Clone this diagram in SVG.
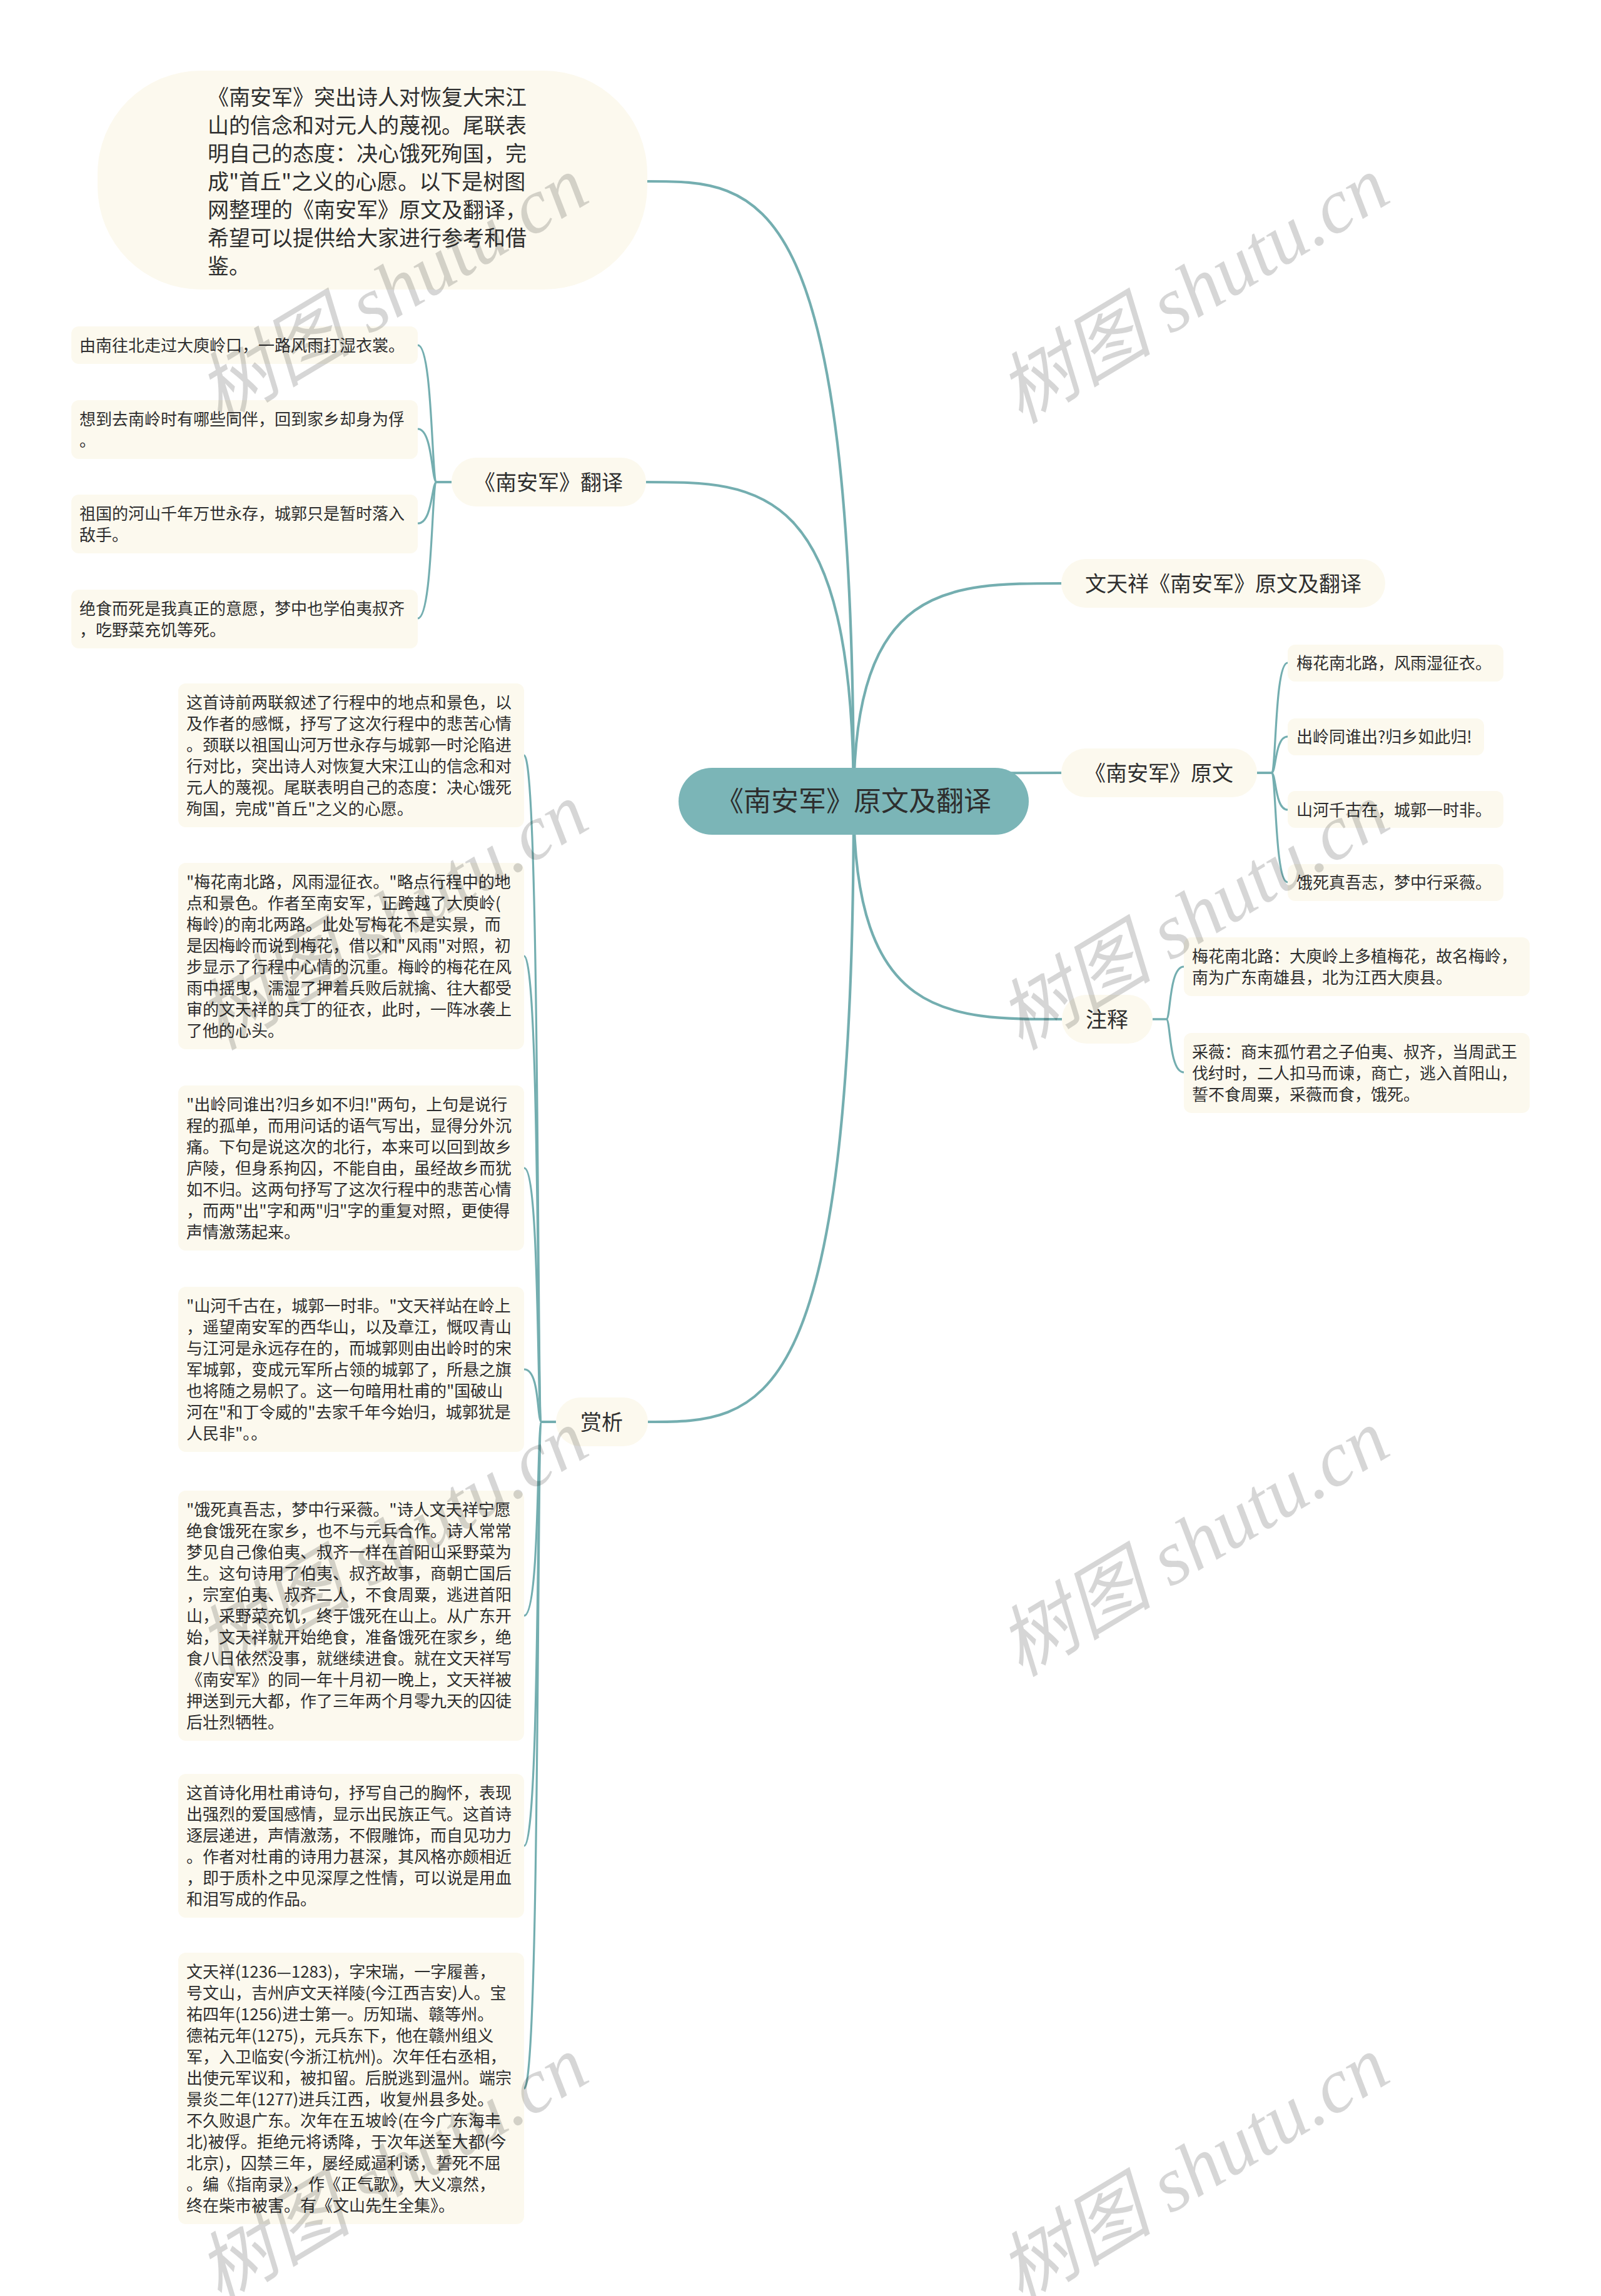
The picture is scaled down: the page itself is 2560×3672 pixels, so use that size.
<svg xmlns="http://www.w3.org/2000/svg" width="2560" height="3672" viewBox="0 0 2560 3672">
<style>
.ln{fill:none;stroke:#74aeb0;stroke-width:3.2}
.lm{stroke-width:4.2}
.nd{fill:#fcf9ee}
.rt{fill:#7bb5b7}
.t{font-family:"Noto Sans CJK SC","Noto Sans",sans-serif;fill:#2e2e2e}
.s{font-size:26px}
.m{font-size:34px}
.c{text-anchor:middle}
.wm{font-family:"Liberation Serif","Noto Sans CJK SC",serif;font-style:italic;font-size:124px;fill:#000;fill-opacity:0.16}
</style>
<rect width="2560" height="3672" fill="#ffffff"/>
<g id="connectors">
<path class="ln lm" d="M1365 1281 C1365 290, 1216 290, 1035 290"/>
<path class="ln lm" d="M1365 1281 C1365 771, 1216 771, 1033 771"/>
<path class="ln lm" d="M1365 1281 C1365 933, 1514 933, 1697 933"/>
<path class="ln lm" d="M1365 1281 C1365 1236, 1514 1236, 1697 1236"/>
<path class="ln lm" d="M1365 1281 C1365 1630, 1514 1630, 1698 1630"/>
<path class="ln lm" d="M1365 1281 C1365 2274, 1217 2274, 1036 2274"/>
<path class="ln" d="M722 771 H698 C690 771, 692 552, 668 552"/>
<path class="ln" d="M722 771 H698 C690 771, 692 686, 668 686"/>
<path class="ln" d="M722 771 H698 C690 771, 692 837, 668 837"/>
<path class="ln" d="M722 771 H698 C690 771, 692 989, 668 989"/>
<path class="ln" d="M2010 1236 H2033 C2041 1236, 2038 1060, 2059 1060"/>
<path class="ln" d="M2010 1236 H2033 C2041 1236, 2038 1178, 2059 1178"/>
<path class="ln" d="M2010 1236 H2033 C2041 1236, 2038 1295, 2059 1295"/>
<path class="ln" d="M2010 1236 H2033 C2041 1236, 2038 1411, 2059 1411"/>
<path class="ln" d="M1843 1630 H1865 C1872 1630, 1869 1546, 1893 1546"/>
<path class="ln" d="M1843 1630 H1865 C1872 1630, 1869 1715, 1893 1715"/>
<path class="ln" d="M889 2274 H866 C858 2274, 864 1208, 838 1208"/>
<path class="ln" d="M889 2274 H866 C858 2274, 864 1529, 838 1529"/>
<path class="ln" d="M889 2274 H866 C858 2274, 864 1868, 838 1868"/>
<path class="ln" d="M889 2274 H866 C858 2274, 864 2190, 838 2190"/>
<path class="ln" d="M889 2274 H866 C858 2274, 864 2584, 838 2584"/>
<path class="ln" d="M889 2274 H866 C858 2274, 864 2952, 838 2952"/>
<path class="ln" d="M889 2274 H866 C858 2274, 864 3340, 838 3340"/>
</g>
<g id="root">
<rect class="rt" x="1085" y="1228" width="560" height="107" rx="53.5"/>
<text class="t c" x="1365" y="1297" font-size="44">《南安军》原文及翻译</text>
</g>
<g id="intro">
<rect class="nd" x="156" y="113" width="879" height="350" rx="165"/>
<text class="t m" x="332"><tspan x="332" y="168">《南安军》突出诗人对恢复大宋江</tspan><tspan x="332" y="213">山的信念和对元人的蔑视。尾联表</tspan><tspan x="332" y="258">明自己的态度：决心饿死殉国，完</tspan><tspan x="332" y="303">成"首丘"之义的心愿。以下是树图</tspan><tspan x="332" y="348">网整理的《南安军》原文及翻译，</tspan><tspan x="332" y="393">希望可以提供给大家进行参考和借</tspan><tspan x="332" y="438">鉴。</tspan></text>
</g>
<g id="fanyi">
<rect class="nd" x="722" y="732" width="311" height="78" rx="39"/>
<text class="t m c" x="877" y="784">《南安军》翻译</text>
</g>
<g id="fanyi-1">
<rect class="nd" x="114" y="522" width="554" height="60" rx="12"/>
<text class="t s" x="127" y="562">由南往北走过大庾岭口，一路风雨打湿衣裳。</text>
</g>
<g id="fanyi-2">
<rect class="nd" x="114" y="640" width="554" height="94" rx="12"/>
<text class="t s"><tspan x="127" y="680">想到去南岭时有哪些同伴，回到家乡却身为俘</tspan><tspan x="127" y="714">。</tspan></text>
</g>
<g id="fanyi-3">
<rect class="nd" x="114" y="791" width="554" height="94" rx="12"/>
<text class="t s"><tspan x="127" y="831">祖国的河山千年万世永存，城郭只是暂时落入</tspan><tspan x="127" y="865">敌手。</tspan></text>
</g>
<g id="fanyi-4">
<rect class="nd" x="114" y="943" width="554" height="94" rx="12"/>
<text class="t s"><tspan x="127" y="983">绝食而死是我真正的意愿，梦中也学伯夷叔齐</tspan><tspan x="127" y="1017">，吃野菜充饥等死。</tspan></text>
</g>
<g id="title2">
<rect class="nd" x="1697" y="894" width="518" height="78" rx="39"/>
<text class="t m c" x="1956" y="946">文天祥《南安军》原文及翻译</text>
</g>
<g id="yuanwen">
<rect class="nd" x="1697" y="1197" width="313" height="78" rx="39"/>
<text class="t m c" x="1853" y="1249">《南安军》原文</text>
</g>
<g id="yuanwen-1">
<rect class="nd" x="2059" y="1031" width="345" height="59" rx="12"/>
<text class="t s" x="2073" y="1070">梅花南北路，风雨湿征衣。</text>
</g>
<g id="yuanwen-2">
<rect class="nd" x="2059" y="1149" width="314" height="59" rx="12"/>
<text class="t s" x="2073" y="1188">出岭同谁出?归乡如此归!</text>
</g>
<g id="yuanwen-3">
<rect class="nd" x="2059" y="1265" width="345" height="59" rx="12"/>
<text class="t s" x="2073" y="1305">山河千古在，城郭一时非。</text>
</g>
<g id="yuanwen-4">
<rect class="nd" x="2059" y="1382" width="345" height="59" rx="12"/>
<text class="t s" x="2073" y="1421">饿死真吾志，梦中行采薇。</text>
</g>
<g id="zhushi">
<rect class="nd" x="1698" y="1591" width="145" height="78" rx="39"/>
<text class="t m c" x="1770" y="1643">注释</text>
</g>
<g id="zhushi-1">
<rect class="nd" x="1893" y="1499" width="553" height="94" rx="12"/>
<text class="t s"><tspan x="1906" y="1539">梅花南北路：大庾岭上多植梅花，故名梅岭，</tspan><tspan x="1906" y="1573">南为广东南雄县，北为江西大庾县。</tspan></text>
</g>
<g id="zhushi-2">
<rect class="nd" x="1893" y="1652" width="553" height="128" rx="12"/>
<text class="t s"><tspan x="1906" y="1692">采薇：商末孤竹君之子伯夷、叔齐，当周武王</tspan><tspan x="1906" y="1726">伐纣时，二人扣马而谏，商亡，逃入首阳山，</tspan><tspan x="1906" y="1760">誓不食周粟，采薇而食，饿死。</tspan></text>
</g>
<g id="shangxi">
<rect class="nd" x="889" y="2235" width="147" height="78" rx="39"/>
<text class="t m c" x="962" y="2287">赏析</text>
</g>
<g id="shangxi-1">
<rect class="nd" x="285" y="1093" width="553" height="230" rx="12"/>
<text class="t s"><tspan x="298" y="1133">这首诗前两联叙述了行程中的地点和景色，以</tspan><tspan x="298" y="1167">及作者的感慨，抒写了这次行程中的悲苦心情</tspan><tspan x="298" y="1201">。颈联以祖国山河万世永存与城郭一时沦陷进</tspan><tspan x="298" y="1235">行对比，突出诗人对恢复大宋江山的信念和对</tspan><tspan x="298" y="1269">元人的蔑视。尾联表明自己的态度：决心饿死</tspan><tspan x="298" y="1303">殉国，完成"首丘"之义的心愿。</tspan></text>
</g>
<g id="shangxi-2">
<rect class="nd" x="285" y="1380" width="553" height="298" rx="12"/>
<text class="t s"><tspan x="298" y="1420">"梅花南北路，风雨湿征衣。"略点行程中的地</tspan><tspan x="298" y="1454">点和景色。作者至南安军，正跨越了大庾岭(</tspan><tspan x="298" y="1488">梅岭)的南北两路。此处写梅花不是实景，而</tspan><tspan x="298" y="1522">是因梅岭而说到梅花，借以和"风雨"对照，初</tspan><tspan x="298" y="1556">步显示了行程中心情的沉重。梅岭的梅花在风</tspan><tspan x="298" y="1590">雨中摇曳，濡湿了押着兵败后就擒、往大都受</tspan><tspan x="298" y="1624">审的文天祥的兵丁的征衣，此时，一阵冰袭上</tspan><tspan x="298" y="1658">了他的心头。</tspan></text>
</g>
<g id="shangxi-3">
<rect class="nd" x="285" y="1736" width="553" height="264" rx="12"/>
<text class="t s"><tspan x="298" y="1776">"出岭同谁出?归乡如不归!"两句，上句是说行</tspan><tspan x="298" y="1810">程的孤单，而用问话的语气写出，显得分外沉</tspan><tspan x="298" y="1844">痛。下句是说这次的北行，本来可以回到故乡</tspan><tspan x="298" y="1878">庐陵，但身系拘囚，不能自由，虽经故乡而犹</tspan><tspan x="298" y="1912">如不归。这两句抒写了这次行程中的悲苦心情</tspan><tspan x="298" y="1946">，而两"出"字和两"归"字的重复对照，更使得</tspan><tspan x="298" y="1980">声情激荡起来。</tspan></text>
</g>
<g id="shangxi-4">
<rect class="nd" x="285" y="2058" width="553" height="264" rx="12"/>
<text class="t s"><tspan x="298" y="2098">"山河千古在，城郭一时非。"文天祥站在岭上</tspan><tspan x="298" y="2132">，遥望南安军的西华山，以及章江，慨叹青山</tspan><tspan x="298" y="2166">与江河是永远存在的，而城郭则由出岭时的宋</tspan><tspan x="298" y="2200">军城郭，变成元军所占领的城郭了，所悬之旗</tspan><tspan x="298" y="2234">也将随之易帜了。这一句暗用杜甫的"国破山</tspan><tspan x="298" y="2268">河在"和丁令威的"去家千年今始归，城郭犹是</tspan><tspan x="298" y="2302">人民非"。。</tspan></text>
</g>
<g id="shangxi-5">
<rect class="nd" x="285" y="2384" width="553" height="400" rx="12"/>
<text class="t s"><tspan x="298" y="2424">"饿死真吾志，梦中行采薇。"诗人文天祥宁愿</tspan><tspan x="298" y="2458">绝食饿死在家乡，也不与元兵合作。诗人常常</tspan><tspan x="298" y="2492">梦见自己像伯夷、叔齐一样在首阳山采野菜为</tspan><tspan x="298" y="2526">生。这句诗用了伯夷、叔齐故事，商朝亡国后</tspan><tspan x="298" y="2560">，宗室伯夷、叔齐二人，不食周粟，逃进首阳</tspan><tspan x="298" y="2594">山，采野菜充饥，终于饿死在山上。从广东开</tspan><tspan x="298" y="2628">始，文天祥就开始绝食，准备饿死在家乡，绝</tspan><tspan x="298" y="2662">食八日依然没事，就继续进食。就在文天祥写</tspan><tspan x="298" y="2696">《南安军》的同一年十月初一晚上，文天祥被</tspan><tspan x="298" y="2730">押送到元大都，作了三年两个月零九天的囚徒</tspan><tspan x="298" y="2764">后壮烈牺牲。</tspan></text>
</g>
<g id="shangxi-6">
<rect class="nd" x="285" y="2837" width="553" height="230" rx="12"/>
<text class="t s"><tspan x="298" y="2877">这首诗化用杜甫诗句，抒写自己的胸怀，表现</tspan><tspan x="298" y="2911">出强烈的爱国感情，显示出民族正气。这首诗</tspan><tspan x="298" y="2945">逐层递进，声情激荡，不假雕饰，而自见功力</tspan><tspan x="298" y="2979">。作者对杜甫的诗用力甚深，其风格亦颇相近</tspan><tspan x="298" y="3013">，即于质朴之中见深厚之性情，可以说是用血</tspan><tspan x="298" y="3047">和泪写成的作品。</tspan></text>
</g>
<g id="shangxi-7">
<rect class="nd" x="285" y="3123" width="553" height="434" rx="12"/>
<text class="t s"><tspan x="298" y="3163">文天祥(1236—1283)，字宋瑞，一字履善，</tspan><tspan x="298" y="3197">号文山，吉州庐文天祥陵(今江西吉安)人。宝</tspan><tspan x="298" y="3231">祐四年(1256)进士第一。历知瑞、赣等州。</tspan><tspan x="298" y="3265">德祐元年(1275)，元兵东下，他在赣州组义</tspan><tspan x="298" y="3299">军，入卫临安(今浙江杭州)。次年任右丞相，</tspan><tspan x="298" y="3333">出使元军议和，被扣留。后脱逃到温州。端宗</tspan><tspan x="298" y="3367">景炎二年(1277)进兵江西，收复州县多处。</tspan><tspan x="298" y="3401">不久败退广东。次年在五坡岭(在今广东海丰</tspan><tspan x="298" y="3435">北)被俘。拒绝元将诱降，于次年送至大都(今</tspan><tspan x="298" y="3469">北京)，囚禁三年，屡经威逼利诱，誓死不屈</tspan><tspan x="298" y="3503">。编《指南录》，作《正气歌》，大义凛然，</tspan><tspan x="298" y="3537">终在柴市被害。有《文山先生全集》。</tspan></text>
</g>
<g id="watermarks">
<text class="wm" x="351" y="679" transform="rotate(-31 351 679)">树图 shutu.cn</text>
<text class="wm" x="1632" y="679" transform="rotate(-31 1632 679)">树图 shutu.cn</text>
<text class="wm" x="351" y="1681" transform="rotate(-31 351 1681)">树图 shutu.cn</text>
<text class="wm" x="1632" y="1681" transform="rotate(-31 1632 1681)">树图 shutu.cn</text>
<text class="wm" x="351" y="2683" transform="rotate(-31 351 2683)">树图 shutu.cn</text>
<text class="wm" x="1632" y="2683" transform="rotate(-31 1632 2683)">树图 shutu.cn</text>
<text class="wm" x="351" y="3685" transform="rotate(-31 351 3685)">树图 shutu.cn</text>
<text class="wm" x="1632" y="3685" transform="rotate(-31 1632 3685)">树图 shutu.cn</text>
</g>
</svg>
